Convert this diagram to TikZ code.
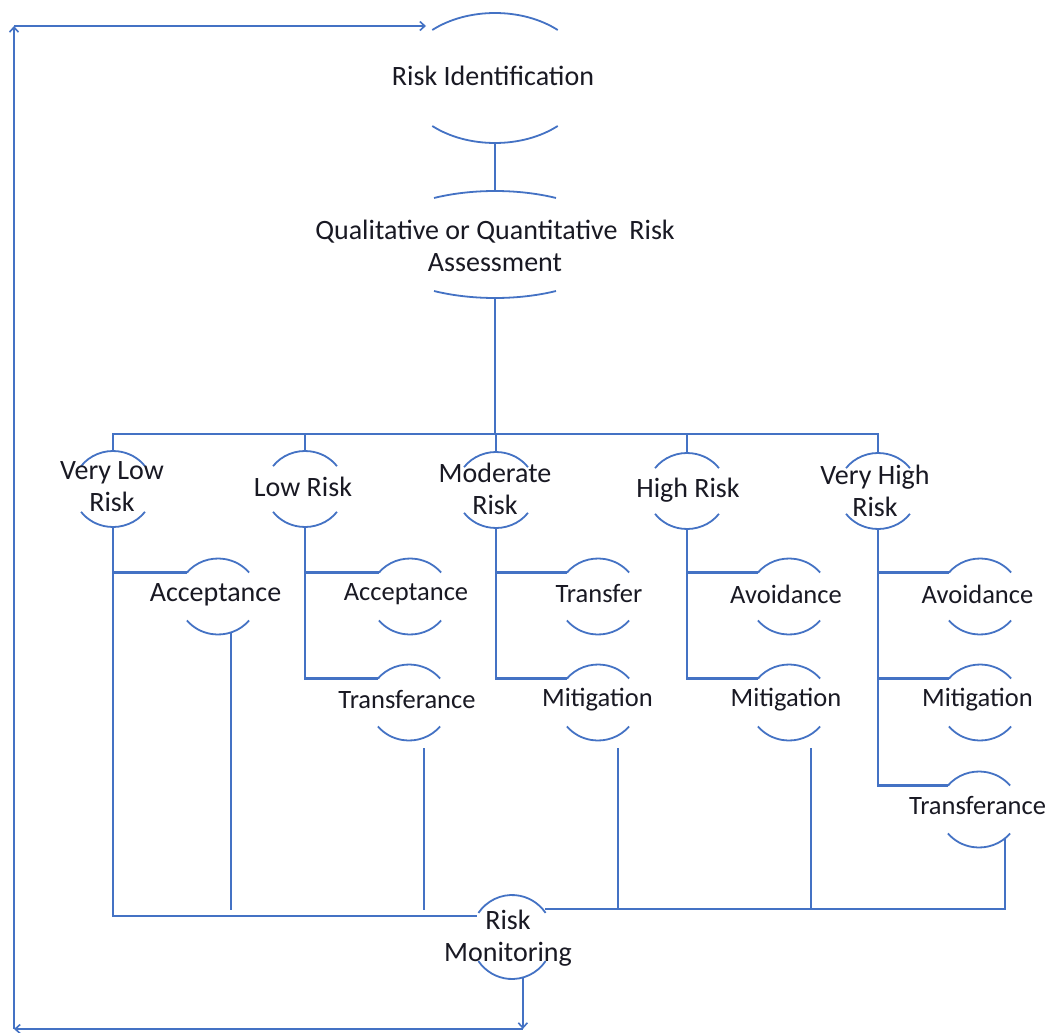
\documentclass[tikz,border=0pt]{standalone}
\usepackage{fontspec}
\setmainfont{Carlito}
\usetikzlibrary{arrows.meta,shapes.geometric}

\definecolor{wordblue}{RGB}{68,114,196}
\definecolor{inkdark}{RGB}{25,25,35}

\tikzset{
  conn/.style={draw=wordblue, line width=2.4pt},
  arcline/.style={draw=wordblue, line width=1.8pt},
  flow/.style={conn, line width=2pt, -{Straight Barb[length=5pt,width=9pt,line width=1.6pt]}},
  bub/.style 2 args={shape=ellipse, draw=none, inner sep=0pt, outer sep=0pt,
    minimum width=2*#1pt, minimum height=2*#2pt},
  lbl/.style={text=inkdark, align=center, inner sep=0pt,
    font=\fontsize{28}{32}\selectfont},
  lblsmall/.style={lbl, font=\fontsize{26.5}{32}\selectfont},
}

% top and bottom arcs of an invisible ellipse node (y axis points down)
% #1 node, #2 x radius, #3 y radius, #4 parameter angle where each arc ends
\newcommand\bubarcs[4]{%
  \draw[arcline] ([shift={(180+#4:#2 and #3)}]#1.center)
    arc[start angle=180+#4, end angle=360-#4, x radius=#2, y radius=#3];
  \draw[arcline] ([shift={(#4:#2 and #3)}]#1.center)
    arc[start angle=#4, end angle=180-#4, x radius=#2, y radius=#3];
}

\begin{document}
\begin{tikzpicture}[x=1pt, y=-1pt]
\useasboundingbox (0,0) rectangle (1056,1032);
\fill[white] (0,0) rectangle (1056,1032);

% ---- shapes ----
\node[bub={93}{65}]     (ri)  at (495,78)    {};
\node[bub={123.5}{53.5}](qra) at (495,244.5) {};

\node[bub={40}{38}] (vl) at (113,489) {};
\node[bub={40}{38}] (lo) at (305,489) {};
\node[bub={40}{38}] (mo) at (496,490) {};
\node[bub={40}{38}] (hi) at (687,491) {};
\node[bub={40}{38}] (vh) at (878,491) {};

\node[bub={40}{38}] (a1) at (218,596.5) {};
\node[bub={40}{38}] (a2) at (410,596.5) {};
\node[bub={40}{38}] (t2) at (409,702.5) {};
\node[bub={40}{38}] (t3) at (598,596.5) {};
\node[bub={40}{38}] (m3) at (598,702.5) {};
\node[bub={40}{38}] (v4) at (789,596.5) {};
\node[bub={40}{38}] (m4) at (789,702.5) {};
\node[bub={40}{38}] (v5) at (980,596.5) {};
\node[bub={40}{38}] (m5) at (980,702.5) {};
\node[bub={40}{38}] (t5) at (979,809.5) {};

\node[bub={41}{42}] (rm) at (512,937) {};

\bubarcs{ri}{93}{65}{47.6}
\bubarcs{qra}{123.5}{53.5}{60.4}
\foreach \n in {vl,lo,mo,hi,vh} {\bubarcs{\n}{40}{38}{37}}
\foreach \n in {a1,a2,t2,t3,m3,v4,m4,v5,m5,t5} {\bubarcs{\n}{40}{38}{39}}
\bubarcs{rm}{41}{42}{35}

% ---- labels ----
\node[lbl] (ri-t)  at (493,76)    {Risk Identification};
\node[lbl] (qra-t) at (495,245.5) {Qualitative or Quantitative\hspace{0.2em} Risk\\Assessment};
\node[lbl] (vl-t)  at (112,487)   {Very Low\\Risk};
\node[lbl] (lo-t)  at (303,487)   {Low Risk};
\node[lbl] (mo-t)  at (495,489)   {Moderate\\Risk};
\node[lbl] (hi-t)  at (688,490)   {High Risk};
\node[lbl] (vh-t)  at (875,491)   {Very High\\Risk};
\node[lbl]      (a1-t) at (215.5,595) {Acceptance};
\node[lblsmall] (a2-t) at (406,594)   {Acceptance};
\node[lblsmall] (t2-t) at (407,700)   {Transferance};
\node[lblsmall] (t3-t) at (599,594)   {Transfer};
\node[lblsmall] (m3-t) at (597.5,700) {Mitigation};
\node[lblsmall] (v4-t) at (786,594)   {Avoidance};
\node[lblsmall] (m4-t) at (786,700)   {Mitigation};
\node[lblsmall] (v5-t) at (977.5,594) {Avoidance};
\node[lblsmall] (m5-t) at (977.5,700) {Mitigation};
\node[lblsmall] (t5-t) at (977.5,806) {Transferance};
\node[lbl] (rm-t)  at (508,938)   {Risk\\Monitoring};

% ---- tree connectors ----
\coordinate (bus) at (495,434);
\draw[conn] (ri.south) -- (qra.north);
\draw[conn] (qra.south) -- (bus);
\draw[conn] (vl.north) -- (vl.north |- bus) -- (vh.north |- bus) -- (vh.north);
\foreach \n in {lo,mo,hi} {\draw[conn] (\n.north |- bus) -- (\n.north);}

\draw[conn] (vl.south) |- (rm.149);
\draw[conn] (vl.south |- a1.142) -- (a1.142);
\draw[conn] (lo.south) |- (t2.142);
\draw[conn] (lo.south |- a2.142) -- (a2.142);
\draw[conn] (mo.south) |- (m3.142);
\draw[conn] (mo.south |- t3.142) -- (t3.142);
\draw[conn] (hi.south) |- (m4.142);
\draw[conn] (hi.south |- v4.142) -- (v4.142);
\draw[conn] (vh.south) |- (t5.142);
\draw[conn] (vh.south |- v5.142) -- (v5.142);
\draw[conn] (vh.south |- m5.142) -- (m5.142);

% ---- drops into monitoring ----
\coordinate (lbus) at (0,910);
\coordinate (rbus) at ([yshift=4pt]rm.36);
\coordinate (t2d) at ([xshift=15pt,yshift=-7.5pt]t2.south);
\coordinate (m3d) at ([xshift=20pt,yshift=-7.5pt]m3.south);
\coordinate (m4d) at ([xshift=22pt,yshift=-7.5pt]m4.south);
\draw[conn] (a1.-70) -- (a1.-70 |- lbus);
\draw[conn] (t2d) -- (t2d |- lbus);
\draw[conn] (m3d) -- (m3d |- rbus);
\draw[conn] (m4d) -- (m4d |- rbus);
\draw[conn] (t5.-48) |- (rbus);

% ---- feedback loop ----
\coordinate (loopbr) at (rm.-75 |- 0,1029);
\coordinate (loopbl) at (14,1029);
\coordinate (looptl) at (14,26);
\coordinate (loopin) at (426,26);
\draw[flow] (rm.-75) -- (loopbr);
\draw[flow] (loopbr) -- (loopbl);
\draw[flow] (loopbl) -- (looptl);
\draw[flow] (looptl) -- (loopin);
\end{tikzpicture}
\end{document}
